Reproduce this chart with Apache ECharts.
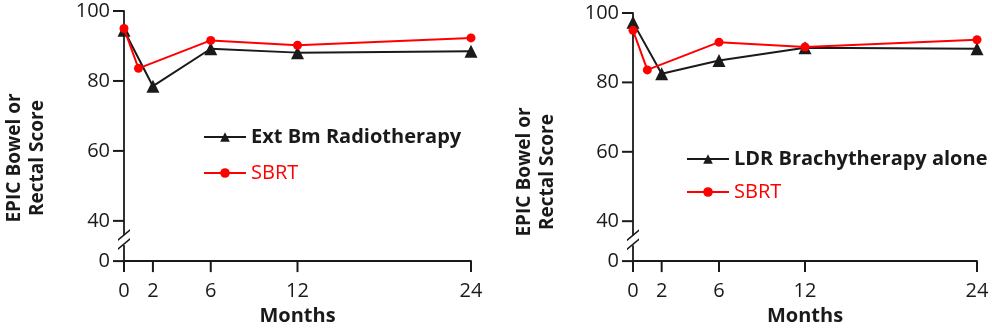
<!DOCTYPE html>
<html>
<head>
<meta charset="utf-8">
<script src="https://cdn.jsdelivr.net/npm/echarts@6/dist/echarts.min.js"></script>
<style>
  html, body { margin: 0; padding: 0; background: #fff; }
  #chart { width: 992px; height: 331px; }
</style>
</head>
<body>
<div id="chart"></div>
<script>
// months (value axis, so 0-2-6-12-24 keep their real spacing)
const monthTicks = [0, 2, 6, 12, 24];
const extMonths = [0, 2, 6, 12, 24];
const sbrtMonths = [0, 1, 6, 12, 24];

// left panel
const extBmScores = [94.5, 78.5, 89.2, 88.1, 88.5];
// right panel
const ldrScores = [97.3, 82.5, 86.3, 90.0, 89.7];
// SBRT arm, same in both panels
const sbrtScores = [95.0, 83.6, 91.6, 90.2, 92.3];

const yTicks = [40, 60, 80, 100];
const Y_BOTTOM = 28.5; // where the broken axis shows "0"
const Y_BREAK = 34.5;  // where the "//" sits

const FONT = "Open Sans";
const BLACK = "#1a1a1a";
const RED = "#ff0000";
const TICK = 11;
const LW = 2;

const chart = echarts.init(document.getElementById("chart"));

function pairs(xs, ys) {
  return xs.map((x, i) => [x, ys[i]]);
}

function xAxisFor(gridIndex) {
  return {
    type: "value",
    gridIndex,
    min: 0,
    max: 24,
    name: "Months",
    nameLocation: "middle",
    nameGap: 44,
    nameTextStyle: { fontFamily: FONT, fontWeight: "bold", fontSize: 20, color: BLACK },
    axisLine: { lineStyle: { color: BLACK, width: 1.8 } },
    axisTick: { show: false },
    axisLabel: { fontFamily: FONT, fontSize: 20, color: BLACK, margin: 20, customValues: monthTicks },
    splitLine: { show: false },
  };
}

function yAxisFor(gridIndex) {
  const vals = [Y_BOTTOM].concat(yTicks);
  return {
    type: "value",
    gridIndex,
    min: Y_BOTTOM,
    max: 100,
    axisLine: { show: true, lineStyle: { color: BLACK, width: 1.8 } },
    axisTick: { show: false },
    axisLabel: {
      fontFamily: FONT, fontSize: 20, color: BLACK, margin: 14,
      customValues: vals,
      formatter: (v) => (v === Y_BOTTOM ? "0" : String(v)),
    },
    splitLine: { show: false },
  };
}

function lineSeries(name, data, idx, color, symbol, size) {
  return {
    name,
    type: "line",
    xAxisIndex: idx,
    yAxisIndex: idx,
    data,
    symbol,
    symbolSize: size,
    lineStyle: { color, width: 2 },
    itemStyle: { color },
    z: symbol === "circle" ? 3 : 2,
  };
}

// a slanted stroke drawn as a thin filled parallelogram
function slash(x, y) {
  return {
    type: "polygon",
    shape: { points: [[x - 6, y + 5 - 1], [x + 6, y - 5 - 1], [x + 6, y - 5 + 1], [x - 6, y + 5 + 1]] },
    style: { fill: BLACK },
  };
}

// axis ticks (outside) and break marks, drawn through the axis scales
function axisDecor(idx) {
  const items = [];
  [Y_BOTTOM].concat(yTicks).forEach((v) => items.push(["y", v]));
  monthTicks.forEach((m) => items.push(["x", m]));
  items.push(["b", Y_BREAK]);
  return {
    type: "custom",
    xAxisIndex: idx,
    yAxisIndex: idx,
    clip: false,
    silent: true,
    z: 5,
    data: items.map((d, i) => [i, d[1]]),
    encode: { x: -1, y: -1 },
    renderItem: (params, api) => {
      const kind = items[params.dataIndex][0];
      const v = items[params.dataIndex][1];
      if (kind === "y") {
        const p = api.coord([0, v]);
        return { type: "rect", shape: { x: p[0] - TICK, y: p[1] - LW / 2, width: TICK, height: LW }, style: { fill: BLACK } };
      }
      if (kind === "x") {
        const p = api.coord([v, Y_BOTTOM]);
        return { type: "rect", shape: { x: p[0] - LW / 2, y: p[1], width: LW, height: TICK }, style: { fill: BLACK } };
      }
      const b = api.coord([0, v]);
      return {
        type: "group",
        children: [
          { type: "rect", shape: { x: b[0] - 3, y: b[1] - 5, width: 6, height: 10 }, style: { fill: "#fff" } },
          slash(b[0], b[1] - 5),
          slash(b[0], b[1] + 4),
        ],
      };
    },
  };
}

function legendFor(name, left, top, gap) {
  return {
    orient: "vertical",
    left,
    top,
    itemWidth: 42,
    itemHeight: 12,
    itemGap: gap,
    textStyle: { fontFamily: FONT, fontSize: 20, lineHeight: 22 },
    data: [
      { name, textStyle: { color: BLACK, fontWeight: "bold" } },
      { name: "SBRT", textStyle: { color: RED, fontWeight: "normal" } },
    ],
  };
}

function yTitle(x, y) {
  return {
    type: "text",
    x,
    y,
    rotation: Math.PI / 2,
    style: {
      text: "EPIC Bowel or\nRectal Score",
      fontFamily: FONT,
      fontWeight: "bold",
      fontSize: 19,
      lineHeight: 23,
      fill: BLACK,
      align: "center",
      verticalAlign: "middle",
    },
  };
}

chart.setOption({
  animation: false,
  backgroundColor: "#fff",
  grid: [
    { left: 124, right: 521, top: 11, bottom: 68 },
    { left: 633, right: 15, top: 13, bottom: 68 },
  ],
  xAxis: [xAxisFor(0), xAxisFor(1)],
  yAxis: [yAxisFor(0), yAxisFor(1)],
  legend: [
    legendFor("Ext Bm Radiotherapy", 198, 121, 14),
    legendFor("LDR Brachytherapy alone", 681, 143, 11),
  ],
  series: [
    lineSeries("Ext Bm Radiotherapy", pairs(extMonths, extBmScores), 0, BLACK, "triangle", 13),
    lineSeries("SBRT", pairs(sbrtMonths, sbrtScores), 0, RED, "circle", 9),
    lineSeries("LDR Brachytherapy alone", pairs(extMonths, ldrScores), 1, BLACK, "triangle", 13),
    lineSeries("SBRT", pairs(sbrtMonths, sbrtScores), 1, RED, "circle", 9),
    axisDecor(0),
    axisDecor(1),
  ],
  graphic: [yTitle(26, 158), yTitle(536, 172)],
});
</script>
</body>
</html>
